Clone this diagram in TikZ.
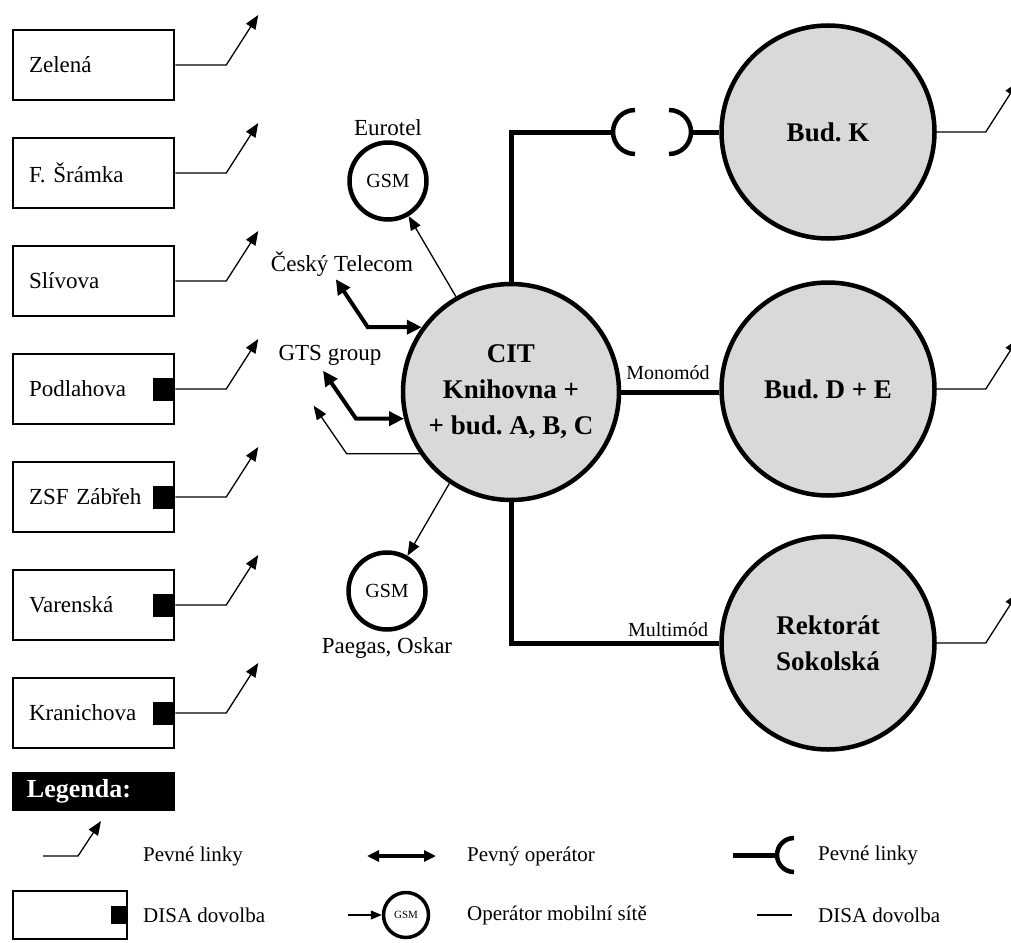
\documentclass[tikz,border=0pt]{standalone}
\usepackage{fontspec}
\setmainfont{Liberation Serif}
\usetikzlibrary{arrows.meta}
\definecolor{bldg}{RGB}{217,217,217}
\newcommand\fslab{\fontsize{23}{27}\selectfont}
\newcommand\fsleg{\fontsize{21}{25}\selectfont}
\newcommand\fssmall{\fontsize{20}{24}\selectfont}
\newcommand\fsbig{\fontsize{27}{36}\selectfont}
\frenchspacing
\begin{document}
\begin{tikzpicture}[x=1pt,y=-1pt,
  box/.style={draw,line width=2.5pt,minimum width=161pt,minimum height=70pt,inner xsep=16pt,text width=129pt,align=left,font=\fslab},
  disa/.style={fill=black,draw=none,minimum width=22pt,minimum height=23pt,inner sep=0pt,anchor=east},
  bigc/.style={circle,draw,line width=4.5pt,fill=bldg,inner sep=0pt,align=center,font=\fsbig\bfseries},
  gsm/.style={circle,draw,line width=4.5pt,minimum size=77pt,inner sep=0pt,font=\fssmall},
  lbl/.style={inner sep=0pt,font=\fslab},
  small/.style={inner sep=0pt,font=\fssmall},
  leg/.style={inner sep=0pt,anchor=west,font=\fsleg},
  thinarrow/.style={line width=1.3pt,-{Triangle[length=14pt,width=11pt]}},
  thinline/.style={line width=1.3pt},
  biarrow/.style={line width=4pt,{Triangle[length=15pt,width=14pt]}-{Triangle[length=15pt,width=14pt]}},
  fiber/.style={line width=5pt},
  plug/.style={line width=4.5pt}]
\useasboundingbox (0,0) rectangle (1011,942);

% left boxes
\node[box] (b1) at (93.5,65) {Zelená};
\node[box] (b2) at (93.5,173) {F. Šrámka};
\node[box] (b3) at (93.5,281) {Slívova};
\node[box] (b4) at (93.5,389) {Podlahova};
\node[box] (b5) at (93.5,497) {ZSF Zábřeh};
\node[box] (b6) at (93.5,605) {Varenská};
\node[box] (b7) at (93.5,713) {Kranichova};
\node[disa] (d4) at (b4.east) {};
\node[disa] (d5) at (b5.east) {};
\node[disa] (d6) at (b6.east) {};
\node[disa] (d7) at (b7.east) {};
\foreach \b in {b1,b2,b3,b4,b5,b6,b7}
  \draw[thinarrow] (\b.east) -- ++(51,0) -- ++(32,-50);

% buildings
\node[bigc,minimum size=216pt] (cit) at (511,392) {CIT\\Knihovna +\\+ bud. A, B, C};
\node[bigc,minimum size=213pt] (budk) at (828,132) {Bud. K};
\node[bigc,minimum size=213pt] (bde) at (828,389) {Bud. D + E};
\node[bigc,minimum size=213pt] (rek) at (828,643) {Rektorát\\Sokolská};
\foreach \c in {budk,bde,rek}
  \draw[thinarrow] (\c.east) -- ++(49,0) -- ++(32,-50);

% fiber links
\coordinate (plugL) at (613,132);
\coordinate (plugR) at (691,132);
\draw[fiber] (cit.north) |- (plugL);
\draw[plug] (635,154) arc[start angle=90,end angle=270,radius=22];
\draw[plug] (669,110) arc[start angle=-90,end angle=90,radius=22];
\draw[fiber] (plugR) -- (budk.west);
\draw[fiber] (cit.east) -- (cit.east -| bde.west);
\node[small] (mono) at (668,373) {Monomód};
\draw[fiber] (cit.south) |- (rek.west);
\node[small] (multi) at (668,630) {Multimód};

% mobile operators
\node[gsm] (eur) at (388,181) {GSM};
\node[lbl,anchor=south] (eurl) at (388,136) {Eurotel};
\draw[thinarrow] (cit.120) -- (eur);
\node[gsm] (pg) at (387,591) {GSM};
\node[lbl,anchor=north] (pgl) at (387,637) {Paegas, Oskar};
\draw[thinarrow] (cit.236) -- (pg);

% fixed operators
\node[lbl] (ct) at (342,264) {Český Telecom};
\node[lbl] (gts) at (330,355) {GTS group};
\draw[biarrow] (cit.144) -- ++(-54,0) -- ++(-32,-48) coordinate (ctTip);
\draw[biarrow] (cit.194) -- ++(-48,0) -- ++(-33,-48) coordinate (gtsTip);
\draw[thinarrow] (cit.214) -- ++(-73,0) -- ++(-33,-48) coordinate (fixTip);

% legend
\node[fill=black,text=white,minimum width=163pt,minimum height=39pt,inner xsep=15pt,text width=133pt,align=left,font=\fontsize{26}{30}\selectfont\bfseries] (legh) at (93.5,791.5) {Legenda:};
\coordinate (la) at (43,856);
\draw[thinarrow] (la) -- ++(35,0) -- ++(23,-35);
\node[leg] (lt1) at (143,856) {Pevné linky};
\node[draw,line width=2.5pt,minimum width=114pt,minimum height=48pt,inner sep=0pt] (lbox) at (70,915) {};
\node[disa,minimum width=17pt,minimum height=18pt] (ld) at (lbox.east) {};
\node[leg] (lt2) at (143,915) {DISA dovolba};
\coordinate (lb1) at (367,856);
\coordinate (lb2) at (436,856);
\draw[line width=3.5pt,{Triangle[length=12pt,width=11pt]}-{Triangle[length=12pt,width=11pt]}] (lb1) -- (lb2);
\node[leg] (lt3) at (467,856) {Pevný operátor};
\node[gsm,minimum size=45pt,line width=3.5pt,font=\fontsize{11}{13}\selectfont] (lgsm) at (406,915) {GSM};
\coordinate (lga) at (348,915);
\draw[line width=1.3pt,-{Triangle[length=11pt,width=9pt]}] (lga) -- (lgsm);
\node[leg] (lt4) at (467,915) {Operátor mobilní sítě};
\coordinate (lc1) at (733,855);
\coordinate (lc2) at (777,855);
\draw[fiber] (lc1) -- (lc2);
\draw[plug] (794,872) arc[start angle=90,end angle=270,radius=17];
\node[leg] (lt5) at (818,855) {Pevné linky};
\coordinate (ld1) at (757,915);
\coordinate (ld2) at (792,915);
\draw[thinline] (ld1) -- (ld2);
\node[leg] (lt6) at (818,915) {DISA dovolba};
\end{tikzpicture}
\end{document}
